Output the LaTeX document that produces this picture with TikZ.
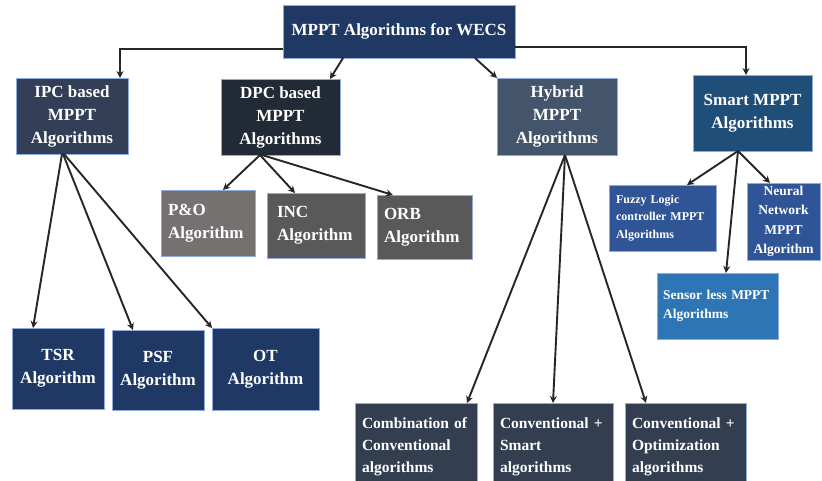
\documentclass[tikz,border=0pt]{standalone}
\usepackage{fontspec}
\setmainfont{Liberation Serif}
\usetikzlibrary{arrows.meta,calc}
\definecolor{cTop}{HTML}{1F3864}
\definecolor{cIPC}{HTML}{323F56}
\definecolor{cDPC}{HTML}{222A35}
\definecolor{cPO}{HTML}{767171}
\definecolor{cINC}{HTML}{595959}
\definecolor{cHyb}{HTML}{44546A}
\definecolor{cSmart}{HTML}{1F4E79}
\definecolor{cFuzzy}{HTML}{2F5597}
\definecolor{cSensor}{HTML}{2E75B6}
\definecolor{cBot}{HTML}{333F50}
\definecolor{cEdge}{HTML}{8FAADC}
\definecolor{cArrow}{HTML}{262626}
\tikzset{
  box/.style={draw=cEdge, line width=0.6pt, text=white, inner sep=0pt, outer sep=0pt},
  bigtxt/.style={font=\fontsize{17}{23}\selectfont\bfseries, align=center},
  lefttxt/.style={align=left, inner xsep=7pt},
  conn/.style={draw=cArrow, line width=1.9pt, -{Stealth[length=7pt,width=7pt]}}
}
\begin{document}
\begin{tikzpicture}[x=1pt,y=-1pt]
\useasboundingbox (0,0) rectangle (822,481);
\clip (0,0) rectangle (822,481);
\fill[white] (0,0) rectangle (822,481);

\node[box,fill=cTop,bigtxt,minimum width=232pt,minimum height=53pt] (top) at (399,31.5) {MPPT Algorithms for WECS};

\node[box,fill=cIPC,bigtxt,minimum width=112pt,minimum height=76pt] (ipc) at (72,116) {IPC based\\MPPT\\Algorithms};
\node[box,fill=cDPC,bigtxt,minimum width=119pt,minimum height=76pt] (dpc) at (280.5,117) {DPC based\\MPPT\\Algorithms};
\node[box,fill=cHyb,bigtxt,minimum width=120pt,minimum height=77pt] (hyb) at (557,116.5) {Hybrid\\MPPT\\Algorithms};
\node[box,fill=cSmart,bigtxt,minimum width=119pt,minimum height=76pt] (smart) at (752.5,113) {Smart MPPT\\Algorithms};

\node[box,fill=cPO,bigtxt,lefttxt,align=left,text width=80pt,minimum height=66pt] (po) at (208,223) {P\&O\\Algorithm};
\node[box,fill=cINC,bigtxt,lefttxt,align=left,inner xsep=10pt,text width=78pt,minimum height=65pt] (inc) at (316,225.5) {INC\\Algorithm};
\node[box,fill=cINC,bigtxt,lefttxt,align=left,text width=81pt,minimum height=64pt] (orb) at (424.5,227) {ORB\\Algorithm};

\node[box,fill=cFuzzy,lefttxt,text width=93pt,minimum height=66pt,font=\fontsize{12}{17.5}\selectfont\bfseries] (fuzzy) at (662.5,218) {Fuzzy Logic\\controller MPPT\\Algorithms};
\node[box,fill=cFuzzy,align=center,minimum width=73pt,minimum height=77pt,font=\fontsize{13.5}{19.5}\selectfont\bfseries] (neural) at (783.5,221.5) {Neural\\Network\\MPPT\\Algorithm};
\node[box,fill=cSensor,lefttxt,inner xsep=6pt,text width=109pt,minimum height=66pt,font=\fontsize{13.5}{19.5}\selectfont\bfseries] (sensor) at (717.5,306) {Sensor less MPPT\\Algorithms};

\node[box,fill=cTop,bigtxt,minimum width=92pt,minimum height=81pt] (tsr) at (58,368.5) {TSR\\Algorithm};
\node[box,fill=cTop,bigtxt,minimum width=92pt,minimum height=80pt] (psf) at (158,370) {PSF\\Algorithm};
\node[box,fill=cTop,bigtxt,minimum width=107pt,minimum height=82pt] (ot) at (265.5,369) {OT\\Algorithm};

\node[box,fill=cBot,lefttxt,text width=108pt,minimum height=87pt,font=\fontsize{15.5}{22}\selectfont\bfseries] (comb) at (416,446.5) {Combination of\\Conventional\\algorithms};
\node[box,fill=cBot,lefttxt,text width=106pt,minimum height=87pt,font=\fontsize{15.5}{22}\selectfont\bfseries] (cs) at (553,446.5) {Conventional +\\Smart\\algorithms};
\node[box,fill=cBot,lefttxt,text width=107pt,minimum height=87pt,font=\fontsize{15.5}{22}\selectfont\bfseries] (co) at (685.5,446.5) {Conventional +\\Optimization\\algorithms};

% connectors
\draw[conn] ($(top.west)+(0,17.5)$) -| ($(ipc.north)+(48,0)$);
\draw[conn] ($(top.south)+(-56,0)$) -- ($(dpc.north)+(49.5,0)$);
\draw[conn] ($(top.south)+(76,0)$) -- (hyb.north west);
\draw[conn] ($(top.east)+(0,15.5)$) -| ($(smart.north)+(-6.5,0)$);

\draw[conn] ($(ipc.south)+(-10,0)$) -- ($(tsr.north)+(-25,0)$);
\draw[conn] ($(ipc.south)+(-9,0)$) -- ($(psf.north)+(-25,0)$);
\draw[conn] ($(ipc.south)+(-8,0)$) -- (ot.north west);

\draw[conn] ($(dpc.south)+(-20.5,0)$) -- ($(po.north)+(15,0)$);
\draw[conn] ($(dpc.south)+(-20.5,0)$) -- ($(inc.north)+(-21,0)$);
\draw[conn] ($(dpc.south)+(-18.5,0)$) -- ($(orb.north)+(-31.5,0)$);

\draw[conn] ($(hyb.south)+(8,0)$) -- ($(comb.north)+(51,0)$);
\draw[conn] ($(hyb.south)+(8,0)$) -- (cs.north);
\draw[conn] ($(hyb.south)+(8,0)$) -- ($(co.north)+(-39.5,0)$);

\draw[conn] ($(smart.south)+(-14.5,0)$) -- ($(fuzzy.north)+(24.5,0)$);
\draw[conn] ($(smart.south)+(-14.5,0)$) -- ($(neural.north)+(-13.5,0)$);
\draw[conn] ($(smart.south)+(-14.5,0)$) -- ($(sensor.north)+(8.5,0)$);
\end{tikzpicture}
\end{document}
